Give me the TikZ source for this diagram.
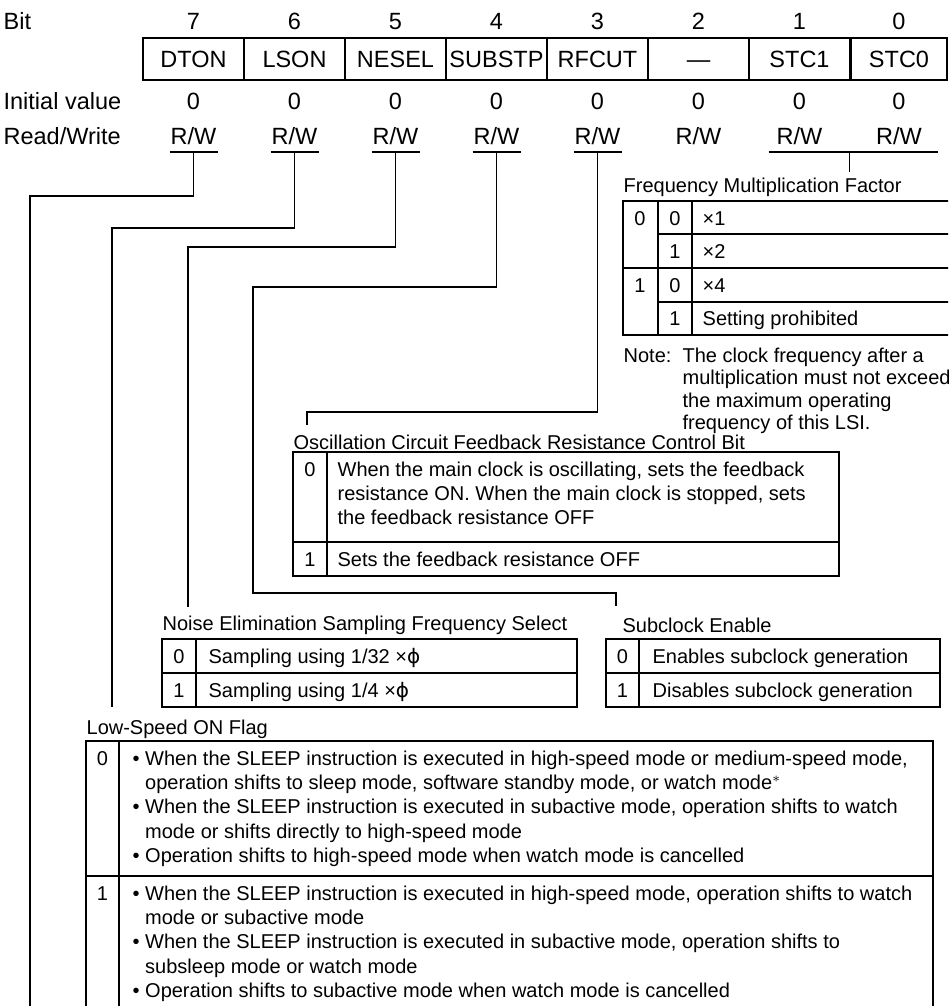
\documentclass[tikz,border=0pt]{standalone}
\usepackage{fontspec}
\setmainfont{Liberation Sans}
\newfontfamily\phifont{DejaVu Sans}
\usetikzlibrary{calc}

\newcommand{\hdrsize}{\fontsize{11.75}{14}\selectfont}
\newcommand{\tblsize}{\fontsize{10}{12.2}\selectfont}
\newcommand{\notesize}{\fontsize{10}{11.25}\selectfont}
\newcommand{\phisym}{{\phifont ϕ}}
\newcommand{\bul}{\textbullet\ }
\newcommand{\hang}{\hphantom{\textbullet\ }}

\begin{document}
\begin{tikzpicture}[x=0.5pt, y=-0.5pt, line width=0.65pt,
  hdr/.style={font=\hdrsize, inner sep=0pt, anchor=base},
  regcell/.style={draw, font=\hdrsize, inner sep=0pt, minimum height=21pt,
                  text height=8.4pt, text depth=0pt},
  lbl/.style={font=\tblsize, inner sep=0pt, anchor=base west},
  txt/.style={font=\tblsize, inner sep=0pt, anchor=base west, align=left},
  num/.style={font=\tblsize, inner sep=0pt, anchor=base},
]
  \useasboundingbox (0,0) rectangle (948,1006);
  \clip (0,0) rectangle (948,1006);

  % register layout
  \node[hdr, anchor=base west] (bitlbl) at (3,30)  {Bit};
  \node[hdr, anchor=base west] (ivlbl)  at (3,110) {Initial value};
  \node[hdr, anchor=base west] (rwlbl)  at (3,145) {Read/Write};
  \foreach \bit/\name/\cx/\w in {7/DTON/193.5/101, 6/LSON/294.5/101, 5/NESEL/395.5/101,
      4/SUBSTP/496.5/101, 3/RFCUT/597.5/101, 2/\textemdash/698.5/101,
      1/STC1/799.5/101, 0/STC0/899/96} {
    \node[hdr] (no\bit) at (\cx,30) {\bit};
    \node[regcell, minimum width=\w*0.5pt] (b\bit) at (\cx,59) {\name};
    \node[hdr] (iv\bit) at (\cx,110) {0};
    \node[hdr] (rw\bit) at (\cx,145) {R/W};
    \coordinate (u\bit) at ($(rw\bit.base)+(0,7)$);
  }
  \foreach \bit in {7,...,3}
    \draw ($(u\bit)+(-24,0)$) -- ($(u\bit)+(24,0)$);
  \draw ($(u1)+(-31,0)$) -- ($(u0)+(39,0)$);
  \coordinate (u10) at ($(u1)!.5!(u0)$);

  % bends and free ends of the drop lines
  \coordinate (k7) at (30,196);  \coordinate (e7) at (30,1010);
  \coordinate (k6) at (112,228); \coordinate (e6) at (112,707);
  \coordinate (k5) at (188,247); \coordinate (e5) at (188,607);
  \coordinate (k4) at (253,287); \coordinate (j4) at (253,593); \coordinate (e4) at (616,606);
  \coordinate (k3) at (307,412); \coordinate (e3) at (307,425);

  \draw (u7) |- (k7) -- (e7);
  \draw (u6) |- (k6) -- (e6);
  \draw (u5) |- (k5) -- (e5);
  \draw (u4) |- (k4) -- (j4) -| (e4);
  \draw (u3) |- (k3) -- (e3);
  \draw (u10) -- ++(0,20);

  % STC1, STC0
  \node[lbl] (fmlbl) at (623,192) {Frequency Multiplication Factor};
  \draw (623,201) rectangle (960,335);
  \draw (658,201) -- (658,335) (692,201) -- (692,335);
  \draw (623,268) -- (960,268) (658,234) -- (960,234) (658,302) -- (960,302);
  \node[num] (fma) at (640,225) {0};
  \node[num] (fmb) at (640,292) {1};
  \foreach \v/\y/\t [count=\i] in {0/225/×1, 1/258.5/×2, 0/292/×4, 1/325.5/Setting prohibited} {
    \node[num] (fmc\i) at (675,\y) {\v};
    \node[txt] (fmt\i) at (702,\y) {\t};
  }
  % multi-line texts are placed by the baseline of their last line
  \node[lbl] (note) at (623,362) {Note:};
  \node[txt, font=\notesize] (notetxt) at (682,429.5)
    {The clock frequency after a\\multiplication must not exceed\\the maximum operating\\frequency of this LSI.};

  % RFCUT
  \node[lbl] (osclbl) at (293,449) {Oscillation Circuit Feedback Resistance Control Bit};
  \draw (293,452) rectangle (839,576);
  \draw (327,452) -- (327,576) (293,542) -- (839,542);
  \node[num] (osc0) at (310,476) {0};
  \node[txt] (osc0t) at (337,524.8) {When the main clock is oscillating, sets the feedback\\
    resistance ON. When the main clock is stopped, sets\\the feedback resistance OFF};
  \node[num] (osc1) at (310,566) {1};
  \node[txt] (osc1t) at (337,566) {Sets the feedback resistance OFF};

  % NESEL
  \node[lbl] (nslbl) at (162,630) {Noise Elimination Sampling Frequency Select};
  \draw (162,639) rectangle (577,707);
  \draw (196,639) -- (196,707) (162,673) -- (577,673);
  \node[num] (ns0) at (179,663) {0};
  \node[txt] (ns0t) at (208,663) {Sampling using 1/32 ×\phisym};
  \node[num] (ns1) at (179,697) {1};
  \node[txt] (ns1t) at (208,697) {Sampling using 1/4 ×\phisym};

  % SUBSTP
  \node[lbl] (sclbl) at (622,632) {Subclock Enable};
  \draw (606,639) rectangle (940,707);
  \draw (639,639) -- (639,707) (606,673) -- (940,673);
  \node[num] (sc0) at (622.5,663) {0};
  \node[txt] (sc0t) at (652,663) {Enables subclock generation};
  \node[num] (sc1) at (622.5,697) {1};
  \node[txt] (sc1t) at (652,697) {Disables subclock generation};

  % LSON
  \node[lbl] (lslbl) at (86,734) {Low-Speed ON Flag};
  \draw (86,1020) |- (933,741) -- (933,1020);
  \draw (119,741) -- (119,1020) (86,876) -- (933,876);
  \node[num] (ls0) at (102.5,765) {0};
  \node[txt] (ls0t) at (132,862.6)
    {\bul When the SLEEP instruction is executed in high-speed mode or medium-speed mode,\\
     \hang operation shifts to sleep mode, software standby mode, or watch mode$^{\ast}$\\
     \bul When the SLEEP instruction is executed in subactive mode, operation shifts to watch\\
     \hang mode or shifts directly to high-speed mode\\
     \bul Operation shifts to high-speed mode when watch mode is cancelled};
  \node[num] (ls1) at (102.5,900) {1};
  \node[txt] (ls1t) at (132,997.6)
    {\bul When the SLEEP instruction is executed in high-speed mode, operation shifts to watch\\
     \hang mode or subactive mode\\
     \bul When the SLEEP instruction is executed in subactive mode, operation shifts to\\
     \hang subsleep mode or watch mode\\
     \bul Operation shifts to subactive mode when watch mode is cancelled};
\end{tikzpicture}
\end{document}
